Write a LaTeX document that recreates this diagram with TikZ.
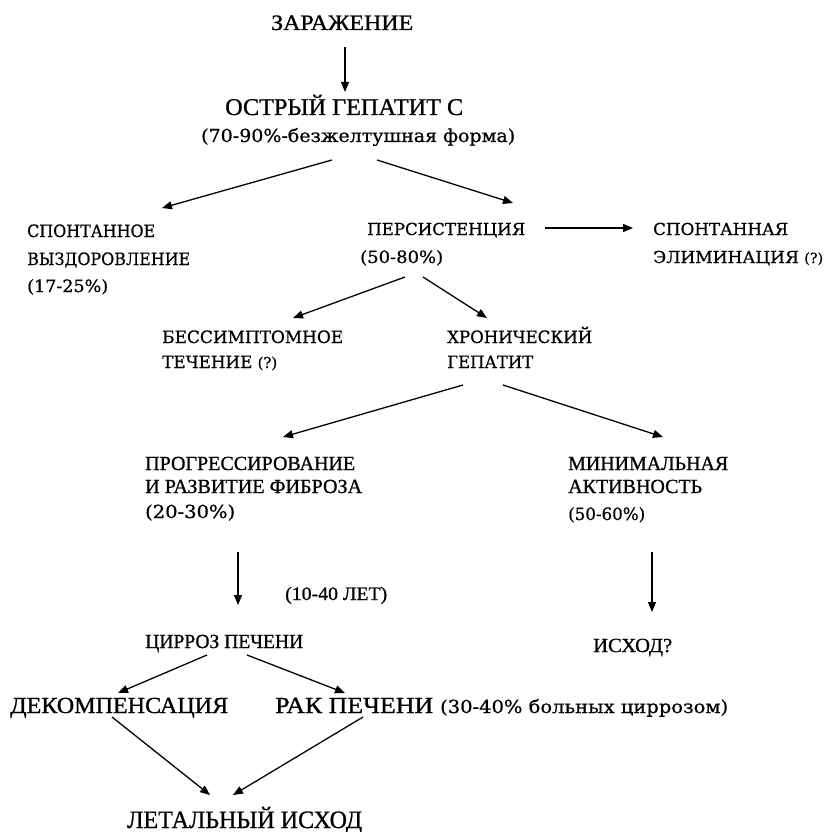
\documentclass[tikz,border=0pt]{standalone}
\usepackage{fontspec}
\usepackage{graphicx}
\setmainfont[FakeBold=0.9]{Liberation Serif}
\newfontfamily\dvs[FakeBold=0.7]{DejaVu Serif}
\usetikzlibrary{arrows.meta}
\newcommand{\wb}[2]{\resizebox{#1pt}{\height}{#2}}
\begin{document}
\begin{tikzpicture}[x=1pt,y=-1pt,
  every node/.style={inner sep=0pt, anchor=base west},
  arr/.style={-{Triangle[length=10pt,width=8pt]}, line width=1.3pt},
  ls/.style={font=\fontsize{#1}{#1}\selectfont},
  dv/.style={font=\dvs\fontsize{#1}{#1}\selectfont}]
\useasboundingbox (0,0) rectangle (829,832);
% nodes
\node[ls=22] (zar) at (271,30) {\wb{142}{ЗАРАЖЕНИЕ}};
\node[ls=24] (ostr) at (225,115) {\wb{238}{ОСТРЫЙ ГЕПАТИТ С}};
\node[dv=18] (ostrB) at (201,142) {\wb{314}{(70-90\%-безжелтушная форма)}};
\node[dv=17] (spA) at (27,237) {\wb{128}{СПОНТАННОЕ}};
\node[dv=17] (spB) at (27,265) {\wb{163}{ВЫЗДОРОВЛЕНИЕ}};
\node[dv=17] (spC) at (27,292) {\wb{81}{(17-25\%)}};
\node[dv=16.5] (peA) at (367,235) {\wb{158}{ПЕРСИСТЕНЦИЯ}};
\node[dv=17] (peB) at (360,263) {\wb{83}{(50-80\%)}};
\node[dv=16.5] (elA) at (653,235) {\wb{135}{СПОНТАННАЯ}};
\node[dv=16.5] (elB) at (653,263) {\wb{170}{ЭЛИМИНАЦИЯ {\fontsize{14}{14}\selectfont(?)}}};
\node[dv=17] (bsA) at (162,343) {\wb{181}{БЕССИМПТОМНОЕ}};
\node[dv=17] (bsB) at (162,368) {\wb{115}{ТЕЧЕНИЕ {\fontsize{15}{15}\selectfont(?)}}};
\node[dv=17] (chA) at (447,343) {\wb{145}{ХРОНИЧЕСКИЙ}};
\node[dv=17] (chB) at (447,368) {\wb{86}{ГЕПАТИТ}};
\node[ls=20] (prA) at (145,470) {\wb{210}{ПРОГРЕССИРОВАНИЕ}};
\node[ls=20] (prB) at (145,493) {\wb{217}{И РАЗВИТИЕ ФИБРОЗА}};
\node[dv=18] (prC) at (145,518) {\wb{90}{(20-30\%)}};
\node[ls=20] (mnA) at (568,470) {\wb{160}{МИНИМАЛЬНАЯ}};
\node[ls=20] (mnB) at (568,493) {\wb{134}{АКТИВНОСТЬ}};
\node[dv=17] (mnC) at (568,520) {\wb{77}{(50-60\%)}};
\node[ls=19] (years) at (285,600) {\wb{102}{(10-40 ЛЕТ)}};
\node[ls=20] (isx) at (593,652) {\wb{79}{ИСХОД?}};
\node[ls=20] (cirr) at (145,648) {\wb{158}{ЦИРРОЗ ПЕЧЕНИ}};
\node[ls=23] (dek) at (10,713) {\wb{218}{ДЕКОМПЕНСАЦИЯ}};
\node[ls=23] (rak) at (275,713) {\wb{158}{РАК ПЕЧЕНИ}\hspace{7pt}{\dvs\fontsize{18}{18}\selectfont\wb{288}{(30-40\% больных циррозом)}}};
\node[ls=25] (let) at (127,828) {\wb{235}{ЛЕТАЛЬНЫЙ ИСХОД}};
% connectors
\draw[arr] ([shift={(74,17)}]zar.base west) -- ([shift={(120,-23)}]ostr.base west);
\draw[arr] ([shift={(131,18)}]ostrB.base west) -- ([shift={(135,-29)}]spA.base west);
\draw[arr] ([shift={(176,18)}]ostrB.base west) -- ([shift={(146,-32)}]peA.base west);
\draw[arr] ([shift={(178,-7)}]peA.base west) -- ([shift={(-20,-7)}]elA.base west);
\draw[arr] ([shift={(45,14)}]peB.base west) -- ([shift={(131,-25)}]bsA.base west);
\draw[arr] ([shift={(63,14)}]peB.base west) -- ([shift={(40,-25)}]chA.base west);
\draw[arr] ([shift={(16,17)}]chB.base west) -- ([shift={(138,-33)}]prA.base west);
\draw[arr] ([shift={(56,17)}]chB.base west) -- ([shift={(95,-33)}]mnA.base west);
\draw[arr] ([shift={(93,34)}]prC.base west) -- ([shift={(93,-43)}]cirr.base west);
\draw[arr] ([shift={(84,32)}]mnC.base west) -- ([shift={(59,-40)}]isx.base west);
\draw[arr] ([shift={(62,7)}]cirr.base west) -- ([shift={(108,-20)}]dek.base west);
\draw[arr] ([shift={(102,7)}]cirr.base west) -- ([shift={(70,-20)}]rak.base west);
\draw[arr] ([shift={(102,4)}]dek.base west) -- ([shift={(83,-33)}]let.base west);
\draw[arr] ([shift={(88,4)}]rak.base west) -- ([shift={(106,-33)}]let.base west);
\end{tikzpicture}
\end{document}
